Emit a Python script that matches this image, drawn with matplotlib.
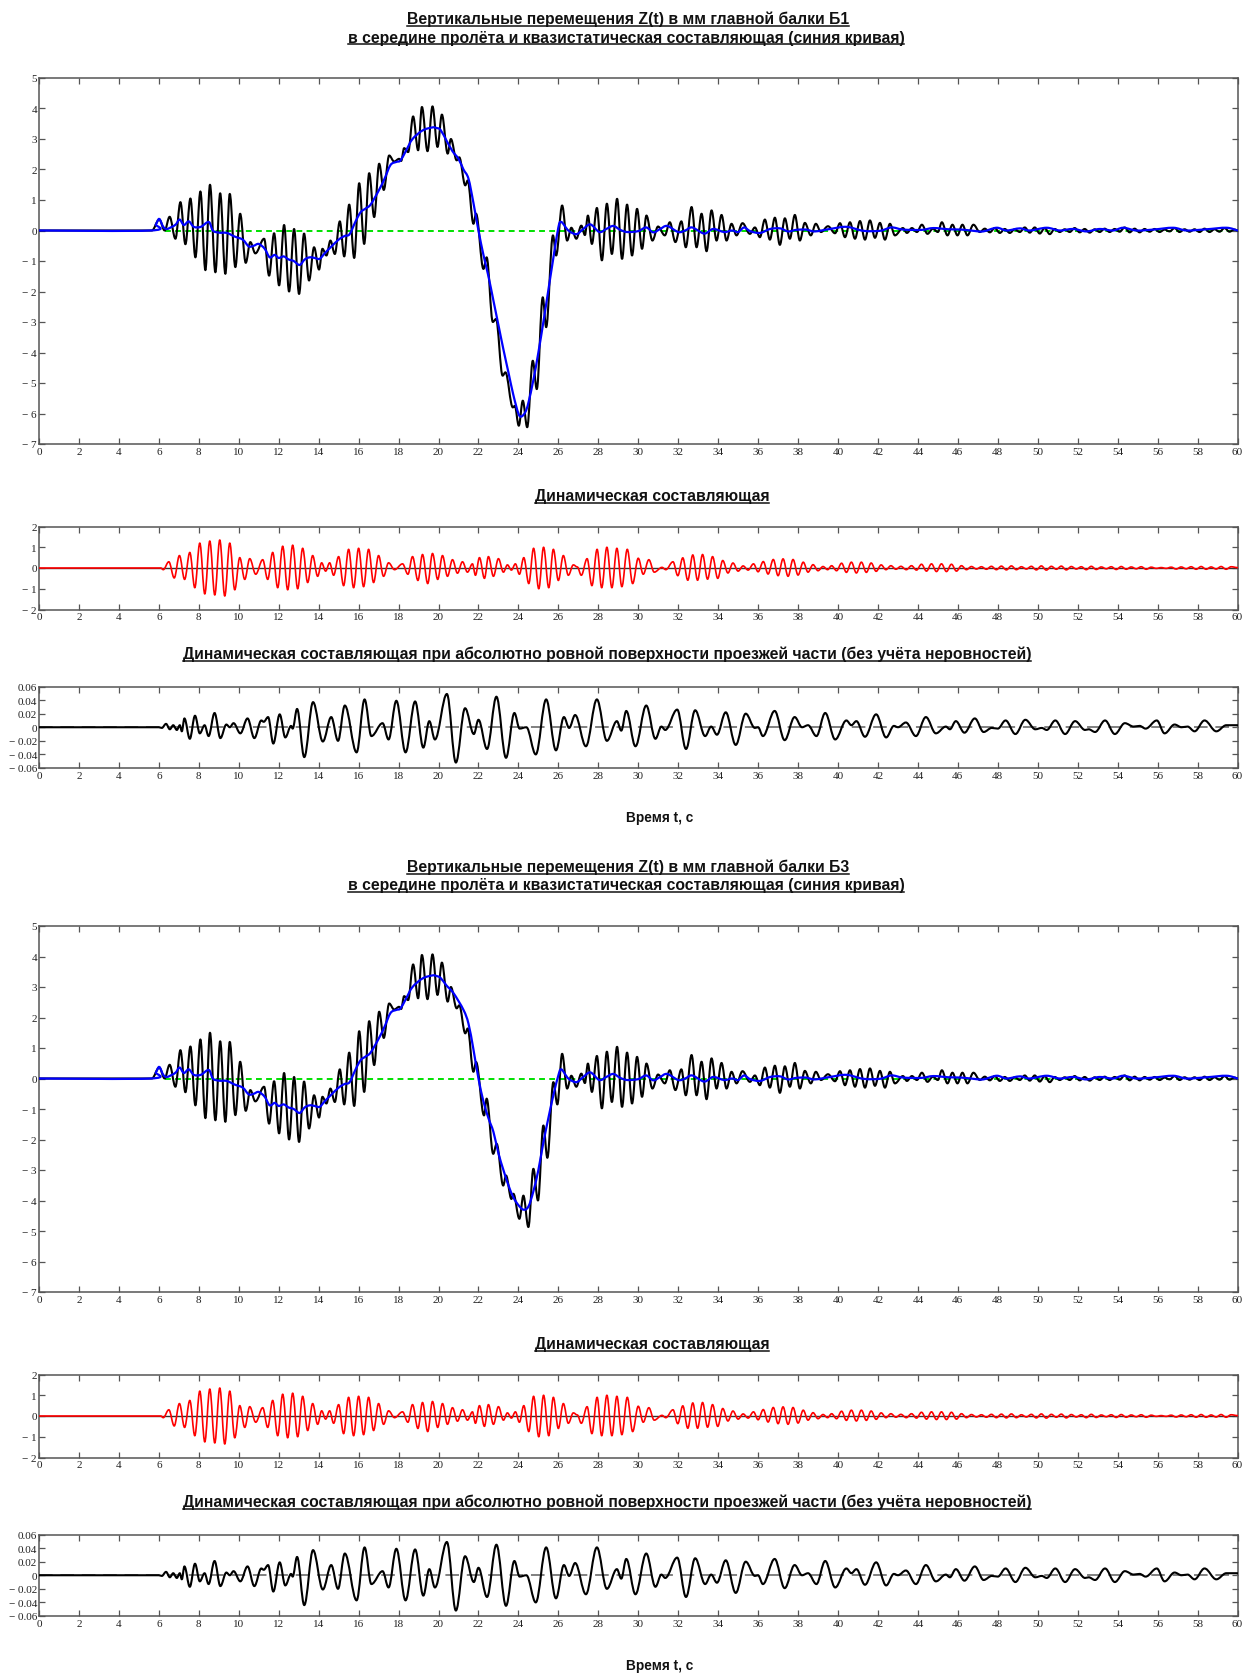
import numpy as np
import matplotlib
matplotlib.use('Agg')
import matplotlib.pyplot as plt
from matplotlib.path import Path
from matplotlib.patches import PathPatch
from matplotlib.lines import Line2D

W, H = 1245, 1674

# ---- dynamic component (red), extrema in time order: t [s], value [mm]
red_t = [0.00, 6.10, 6.22, 6.50, 6.77, 7.03, 7.29, 7.55, 7.80, 8.05,
         8.30, 8.55, 8.80, 9.05, 9.30, 9.55, 9.80, 10.05, 10.30, 10.55,
         10.85, 11.20, 11.45, 11.70, 11.95, 12.20, 12.45, 12.70, 12.95, 13.20,
         13.45, 13.70, 13.95, 14.15, 14.35, 14.55, 14.75, 15.00, 15.25, 15.50,
         15.75, 16.00, 16.25, 16.50, 16.75, 17.00, 17.25, 17.50, 17.80, 18.20,
         18.47, 18.70, 18.97, 19.20, 19.46, 19.70, 19.96, 20.20, 20.45, 20.70,
         20.95, 21.20, 21.45, 21.70, 21.85, 22.05, 22.30, 22.50, 22.75, 23.00,
         23.25, 23.45, 23.65, 23.85, 24.05, 24.27, 24.52, 24.76, 25.02, 25.26,
         25.52, 25.75, 26.00, 26.25, 26.50, 26.75, 26.95, 27.15, 27.44, 27.68,
         27.94, 28.17, 28.43, 28.68, 28.93, 29.18, 29.45, 29.72, 30.00, 30.25,
         30.53, 30.80, 31.19, 31.38, 31.74, 31.98, 32.23, 32.48, 32.73, 32.97,
         33.22, 33.47, 33.72, 33.98, 34.23, 34.49, 34.74, 35.00, 35.25, 35.50,
         35.77, 36.00, 36.26, 36.50, 36.76, 37.00, 37.25, 37.50, 37.75, 38.00,
         38.26, 38.50, 38.75, 39.00, 39.25, 39.48, 39.68, 39.93, 40.18, 40.42,
         40.67, 40.92, 41.17, 41.42, 41.66, 41.91, 42.16, 42.40, 42.65, 42.90,
         43.15, 43.42, 43.68, 43.93, 44.18, 44.43, 44.68, 44.93, 45.18, 45.43,
         45.68, 45.93, 46.18, 46.43, 46.68, 46.93, 47.18, 47.43, 47.68, 47.93,
         48.18, 48.43, 48.68, 48.93, 49.18, 49.43, 49.68, 49.93, 50.18, 50.43,
         50.68, 50.93, 51.18, 51.43, 51.68, 51.93, 52.18, 52.43, 52.68, 52.93,
         53.18, 53.43, 53.68, 53.93, 54.18, 54.43, 54.68, 54.93, 55.18, 55.43,
         55.68, 55.93, 56.18, 56.43, 56.68, 56.93, 57.18, 57.43, 57.68, 57.93,
         58.18, 58.43, 58.68, 58.93, 59.18, 59.43, 59.68, 60.00]
red_v = [0.00, 0.00, -0.08, 0.30, -0.48, 0.60, -0.55, 0.75, -0.95, 1.20,
         -1.25, 1.30, -1.30, 1.35, -1.35, 1.20, -1.05, 0.50, -0.55, 0.45,
         -0.30, 0.40, -0.55, 0.75, -0.95, 1.05, -1.05, 1.10, -1.00, 0.95,
         -0.70, 0.60, -0.40, 0.25, -0.15, 0.25, -0.35, 0.55, -0.85, 0.90,
         -0.95, 0.95, -0.90, 0.90, -0.70, 0.60, -0.40, 0.25, -0.08, 0.20,
         -0.30, 0.55, -0.60, 0.65, -0.75, 0.70, -0.55, 0.60, -0.40, 0.40,
         -0.25, 0.30, -0.20, 0.20, -0.35, 0.50, -0.50, 0.55, -0.40, 0.45,
         -0.20, 0.15, -0.10, 0.20, -0.30, 0.50, -0.75, 0.95, -1.00, 1.00,
         -0.95, 0.90, -0.60, 0.60, -0.35, 0.15, 0.05, -0.35, 0.45, -0.85,
         0.90, -0.95, 1.00, -0.95, 0.95, -0.90, 0.90, -0.75, 0.47, -0.30,
         0.40, -0.20, 0.03, -0.08, 0.30, -0.37, 0.49, -0.59, 0.63, -0.59,
         0.65, -0.54, 0.55, -0.50, 0.36, -0.24, 0.24, -0.15, 0.10, -0.10,
         0.20, -0.18, 0.31, -0.29, 0.41, -0.37, 0.44, -0.40, 0.41, -0.34,
         0.28, -0.20, 0.16, -0.13, 0.07, -0.08, 0.11, -0.13, 0.23, -0.21,
         0.28, -0.24, 0.28, -0.21, 0.24, -0.16, 0.15, -0.08, 0.11, -0.06,
         0.08, -0.08, 0.11, -0.10, 0.18, -0.15, 0.20, -0.17, 0.20, -0.17,
         0.18, -0.15, 0.11, -0.08, 0.07, -0.05, 0.06, -0.06, 0.08, -0.08,
         0.09, -0.09, 0.10, -0.08, 0.06, -0.05, 0.08, -0.09, 0.10, -0.10,
         0.08, -0.06, 0.09, -0.09, 0.07, -0.05, 0.06, -0.08, 0.08, -0.07,
         0.05, -0.04, 0.06, -0.07, 0.07, -0.06, 0.05, -0.04, 0.06, -0.06,
         0.04, -0.02, 0.02, -0.02, 0.04, -0.05, 0.05, -0.04, 0.06, -0.06,
         0.07, -0.06, 0.05, -0.05, 0.07, -0.06, 0.06, 0.02]

# ---- total displacement Z(t), beam B1 (black)
z1_t = [0.00, 5.65, 6.02, 6.29, 6.54, 6.83, 7.08, 7.33, 7.58, 7.83,
        8.08, 8.33, 8.56, 8.83, 9.07, 9.33, 9.55, 9.83, 10.07, 10.35,
        10.58, 10.83, 11.27, 11.52, 11.77, 12.02, 12.27, 12.52, 12.77, 13.02,
        13.27, 13.52, 13.77, 14.02, 14.19, 14.39, 14.59, 14.81, 15.06, 15.28,
        15.53, 15.78, 16.03, 16.28, 16.53, 16.78, 17.03, 17.26, 17.53, 17.78,
        18.03, 18.13, 18.28, 18.48, 18.73, 18.98, 19.17, 19.45, 19.70, 19.95,
        20.17, 20.46, 20.62, 20.91, 21.04, 21.34, 21.46, 21.75, 21.88, 22.25,
        22.41, 22.72, 22.88, 23.21, 23.35, 23.72, 23.82, 24.02, 24.22, 24.44,
        24.72, 24.92, 25.22, 25.39, 25.73, 25.89, 26.19, 26.44, 26.65, 26.90,
        27.15, 27.33, 27.48, 27.68, 27.93, 28.18, 28.43, 28.68, 28.94, 29.19,
        29.44, 29.69, 29.94, 30.19, 30.41, 30.71, 30.99, 31.33, 31.58, 31.86,
        32.16, 32.38, 32.67, 32.92, 33.17, 33.42, 33.67, 33.92, 34.17, 34.42,
        34.67, 34.92, 35.22, 35.59, 35.84, 36.09, 36.34, 36.59, 36.84, 37.09,
        37.34, 37.59, 37.84, 38.09, 38.34, 38.64, 38.89, 39.15, 39.50, 39.85,
        40.10, 40.35, 40.60, 40.85, 41.10, 41.35, 41.60, 41.85, 42.10, 42.35,
        42.60, 42.85, 43.25, 43.45, 43.70, 43.95, 44.20, 44.48, 44.75, 45.00,
        45.20, 45.48, 45.73, 45.98, 46.23, 46.48, 46.78, 47.10, 47.35, 47.60,
        47.85, 48.10, 48.35, 48.60, 48.85, 49.10, 49.35, 49.60, 49.85, 50.10,
        50.35, 50.60, 50.85, 51.10, 51.35, 51.60, 51.85, 52.10, 52.35, 52.60,
        52.85, 53.10, 53.35, 53.60, 53.85, 54.10, 54.35, 54.60, 54.85, 55.10,
        55.35, 55.60, 55.85, 56.10, 56.35, 56.60, 56.85, 57.10, 57.35, 57.60,
        57.85, 58.10, 58.35, 58.60, 58.85, 59.10, 59.35, 59.60, 59.85, 60.00]
z1_v = [0.00, 0.00, 0.36, 0.00, 0.45, -0.27, 0.93, -0.45, 1.05, -0.88,
        1.28, -1.30, 1.50, -1.37, 1.22, -1.42, 1.20, -1.20, 0.55, -1.06,
        -0.38, -0.75, -0.27, -1.48, -0.09, -1.80, 0.18, -2.00, 0.05, -2.08,
        -0.10, -1.64, -0.55, -1.28, -0.60, -0.82, -0.33, -0.77, 0.30, -0.85,
        0.85, -0.90, 1.55, -0.44, 1.88, 0.44, 2.19, 1.33, 2.46, 2.26,
        2.35, 2.28, 2.70, 2.57, 3.74, 2.63, 4.05, 2.60, 4.07, 2.74,
        3.80, 2.52, 3.00, 2.30, 2.40, 1.48, 1.64, 0.22, 0.55, -1.26,
        -0.88, -3.00, -2.90, -4.76, -4.65, -5.80, -5.75, -6.40, -5.58, -6.45,
        -4.27, -5.20, -2.19, -3.17, -0.16, -0.82, 0.82, -0.33, 0.09, -0.27,
        0.16, -0.15, 0.49, -0.44, 0.74, -0.98, 0.88, -0.77, 1.04, -0.93,
        0.85, -0.82, 0.71, -0.60, 0.49, -0.33, 0.13, -0.16, 0.27, -0.38,
        0.30, -0.55, 0.77, -0.55, 0.55, -0.68, 0.66, -0.33, 0.51, -0.33,
        0.22, -0.16, 0.24, -0.11, 0.10, -0.22, 0.36, -0.30, 0.42, -0.47,
        0.40, -0.27, 0.51, -0.33, 0.25, -0.16, 0.22, -0.05, 0.14, -0.09,
        0.24, -0.22, 0.27, -0.27, 0.31, -0.30, 0.33, -0.24, 0.25, -0.30,
        0.22, -0.16, 0.08, -0.08, 0.08, -0.05, 0.19, -0.11, 0.06, -0.05,
        0.27, -0.16, 0.19, -0.16, 0.19, -0.16, 0.19, -0.05, 0.06, -0.06,
        0.08, -0.08, 0.05, -0.08, 0.04, -0.05, 0.10, -0.07, 0.10, -0.10,
        0.08, -0.12, 0.05, -0.05, 0.04, -0.05, 0.08, -0.06, 0.05, -0.07,
        0.04, -0.05, 0.06, -0.05, 0.05, -0.04, 0.10, -0.06, 0.06, -0.06,
        0.05, -0.04, 0.05, -0.05, 0.03, -0.03, 0.08, -0.05, 0.04, -0.04,
        0.04, -0.05, 0.06, -0.05, 0.04, -0.04, 0.08, -0.04, 0.03, 0.00]

# ---- quasi-static component, beam B1 (blue)
q1_t = [0.00, 5.60, 5.85, 6.02, 6.22, 6.40, 6.65, 6.85, 7.04, 7.25,
        7.50, 7.75, 8.10, 8.50, 8.70, 9.00, 9.40, 9.80, 10.20, 10.50,
        10.75, 11.00, 11.30, 11.55, 11.80, 12.00, 12.25, 12.50, 12.75, 13.05,
        13.30, 13.55, 13.80, 14.05, 14.30, 14.60, 15.00, 15.30, 15.55, 15.85,
        16.10, 16.35, 16.60, 17.00, 17.30, 17.60, 17.90, 18.10, 18.40, 18.70,
        19.20, 19.70, 19.90, 20.10, 20.40, 20.70, 21.00, 21.25, 21.50, 21.75,
        22.00, 22.25, 22.50, 22.75, 23.00, 23.25, 23.50, 23.75, 24.00, 24.15,
        24.35, 24.50, 24.75, 25.00, 25.25, 25.50, 25.75, 26.00, 26.15, 26.50,
        26.90, 27.20, 27.60, 28.05, 28.40, 28.75, 29.10, 29.45, 30.00, 30.40,
        30.75, 31.10, 31.45, 32.00, 32.35, 32.70, 33.30, 33.75, 34.30, 34.70,
        35.00, 35.30, 35.60, 36.10, 36.60, 37.10, 37.50, 37.90, 38.40, 38.84,
        39.60, 40.43, 41.26, 42.10, 42.68, 43.26, 44.18, 44.77, 45.52, 46.18,
        46.77, 47.27, 47.94, 48.44, 49.10, 49.60, 50.44, 51.10, 51.77, 52.44,
        53.10, 53.77, 54.28, 54.94, 55.78, 56.78, 57.45, 58.45, 59.45, 60.00]
q1_v = [0.00, 0.00, 0.20, 0.38, 0.12, 0.05, 0.12, 0.20, 0.36, 0.18,
        0.30, 0.12, 0.12, 0.28, 0.00, -0.07, -0.08, -0.20, -0.30, -0.52,
        -0.50, -0.44, -0.60, -0.88, -0.80, -0.90, -0.85, -0.95, -1.00, -1.13,
        -0.95, -0.88, -0.90, -0.93, -0.75, -0.55, -0.30, -0.18, -0.12, 0.30,
        0.60, 0.72, 0.85, 1.30, 1.70, 2.15, 2.25, 2.30, 2.65, 3.00,
        3.28, 3.38, 3.36, 3.30, 2.95, 2.60, 2.35, 2.00, 1.70, 0.90,
        0.00, -0.80, -1.50, -2.30, -3.10, -3.90, -4.65, -5.40, -6.00, -6.10,
        -5.95, -5.65, -4.90, -4.00, -3.00, -1.95, -0.90, 0.10, 0.28, 0.00,
        -0.12, 0.02, 0.20, -0.05, 0.05, 0.15, 0.02, -0.05, -0.02, 0.10,
        -0.06, 0.05, 0.15, -0.05, 0.00, 0.10, -0.10, 0.05, -0.05, 0.00,
        -0.05, 0.10, -0.02, -0.08, 0.05, 0.07, -0.03, 0.02, 0.03, -0.03,
        0.05, 0.12, -0.01, -0.01, 0.10, 0.03, 0.02, 0.08, 0.04, 0.03,
        -0.01, -0.03, 0.09, 0.00, 0.07, 0.00, 0.09, 0.00, 0.05, -0.03,
        0.05, 0.00, 0.09, 0.00, 0.03, 0.09, 0.00, 0.04, 0.09, 0.00]

# ---- beam B3: only the passage of the load (approx. 20-26 s) differs from B1
z3_seg_t = [21.88, 22.28, 22.41, 22.74, 22.91, 23.24, 23.38, 23.65, 23.75, 24.05,
            24.25, 24.50, 24.75, 24.98, 25.25, 25.45, 25.75, 25.95, 26.19]
z3_seg_v = [0.54, -1.21, -0.66, -2.47, -2.14, -3.51, -3.18, -3.95, -3.78, -4.60,
            -3.84, -4.87, -2.96, -4.00, -1.54, -2.60, -0.12, -0.85, 0.81]
q3_seg_t = [20.10, 20.40, 20.75, 21.25, 21.50, 21.75, 22.00, 22.25, 22.50, 22.75,
            23.00, 23.25, 23.50, 23.75, 24.00, 24.25, 24.50, 24.75, 25.00, 25.25,
            25.50, 25.75, 26.00, 26.15]
q3_seg_v = [3.30, 3.05, 2.80, 2.25, 1.80, 0.95, 0.00, -0.75, -1.30, -1.75,
            -2.45, -3.00, -3.50, -3.90, -4.15, -4.30, -4.20, -3.70, -3.00, -2.10,
            -1.30, -0.55, 0.10, 0.30]

# ---- dynamic component for an ideally smooth deck (no roughness)
s_t = [0.00, 6.00, 6.15, 6.36, 6.55, 6.72, 6.90, 7.05, 7.15, 7.28,
       7.55, 7.81, 8.05, 8.29, 8.49, 8.79, 9.08, 9.38, 9.55, 9.74,
       10.08, 10.44, 10.78, 11.13, 11.25, 11.47, 11.73, 12.05, 12.33, 12.62,
       12.70, 12.92, 13.28, 13.72, 14.21, 14.63, 14.97, 15.31, 15.90, 16.30,
       16.64, 17.20, 17.50, 17.89, 18.35, 18.83, 19.24, 19.54, 19.82, 20.42,
       20.87, 21.33, 21.77, 22.00, 22.43, 22.90, 23.38, 23.80, 24.06, 24.40,
       24.87, 25.39, 25.88, 26.28, 26.54, 26.84, 27.38, 27.93, 28.43, 28.93,
       29.15, 29.40, 29.86, 30.40, 30.86, 31.16, 31.35, 31.95, 32.39, 32.85,
       33.35, 33.65, 33.94, 34.38, 34.88, 35.38, 35.84, 36.00, 36.24, 36.83,
       37.33, 37.83, 38.20, 38.50, 38.92, 39.36, 39.86, 40.42, 40.67, 40.92,
       41.35, 41.91, 42.41, 42.80, 43.00, 43.40, 43.90, 44.40, 44.90, 45.40,
       45.60, 45.90, 46.33, 46.85, 47.29, 47.70, 48.00, 48.39, 48.88, 49.38,
       49.88, 50.20, 50.45, 50.88, 51.37, 51.87, 52.37, 52.55, 52.87, 53.37,
       53.86, 54.36, 54.80, 55.10, 55.40, 55.96, 56.35, 56.85, 57.20, 57.50,
       57.85, 58.35, 58.94, 59.44, 60.00]
s_v = [0.000, 0.000, -0.001, 0.005, -0.003, 0.003, -0.004, 0.003, -0.006, 0.013,
       -0.017, 0.017, -0.009, 0.003, -0.013, 0.021, -0.016, 0.004, 0.000, 0.006,
       -0.009, 0.013, -0.016, 0.010, 0.008, 0.015, -0.024, 0.019, -0.015, 0.002,
       -0.002, 0.027, -0.044, 0.037, -0.021, 0.015, -0.020, 0.032, -0.037, 0.041,
       -0.013, 0.006, -0.018, 0.039, -0.037, 0.038, -0.030, 0.009, -0.018, 0.049,
       -0.052, 0.028, -0.010, 0.011, -0.032, 0.045, -0.045, 0.021, -0.002, 0.000,
       -0.040, 0.041, -0.034, 0.015, -0.001, 0.018, -0.028, 0.041, -0.020, 0.009,
       -0.005, 0.024, -0.028, 0.032, -0.017, 0.001, -0.004, 0.026, -0.032, 0.025,
       -0.013, 0.001, -0.011, 0.022, -0.026, 0.020, -0.001, 0.000, -0.013, 0.024,
       -0.019, 0.015, 0.000, 0.003, -0.013, 0.021, -0.018, 0.010, 0.003, 0.009,
       -0.014, 0.019, -0.015, 0.002, 0.000, 0.007, -0.013, 0.015, -0.009, 0.001,
       -0.003, 0.009, -0.008, 0.013, -0.007, -0.001, -0.002, 0.010, -0.010, 0.011,
       -0.003, -0.001, -0.004, 0.010, -0.010, 0.009, -0.004, -0.003, -0.007, 0.010,
       -0.010, 0.006, 0.001, 0.002, -0.002, 0.010, -0.009, 0.004, 0.000, 0.001,
       -0.006, 0.010, -0.006, 0.003, 0.003]

green_start = 6.3   # static reference line is drawn from here on

titles_1 = ["Вертикальные перемещения Z(t) в мм главной балки Б1",
            "в середине пролёта и квазистатическая составляющая (синия кривая)"]
titles_3 = ["Вертикальные перемещения Z(t) в мм главной балки Б3",
            "в середине пролёта и квазистатическая составляющая (синия кривая)"]
title_dyn = "Динамическая составляющая"
title_smooth = "Динамическая составляющая при абсолютно ровной поверхности проезжей части (без учёта неровностей)"
xlabel_text = "Время t, с"

x_ticks = list(range(0, 61, 2))
top_ticks = [5, 4, 3, 2, 1, 0, -1, -2, -3, -4, -5, -6, -7]
dyn_ticks = [2, 1, 0, -1, -2]
smooth_ticks = [0.06, 0.04, 0.02, 0, -0.02, -0.04, -0.06]


def splice(t, v, seg_t, seg_v):
    t = np.asarray(t)
    v = np.asarray(v)
    keep_a = t < seg_t[0]
    keep_b = t > seg_t[-1]
    return (np.concatenate([t[keep_a], seg_t, t[keep_b]]),
            np.concatenate([v[keep_a], seg_v, v[keep_b]]))


def wave_path(t, v, k=0.36):
    # cubic pieces with horizontal tangents at every extremum
    verts = [(t[0], v[0])]
    codes = [Path.MOVETO]
    for i in range(1, len(t)):
        dt = t[i] - t[i - 1]
        verts += [(t[i - 1] + k * dt, v[i - 1]), (t[i] - k * dt, v[i]), (t[i], v[i])]
        codes += [Path.CURVE4] * 3
    return Path(verts, codes)


def smooth_path(t, v):
    # Catmull-Rom curve through the points
    p = np.column_stack([t, v]).astype(float)
    n = len(p)
    verts = [tuple(p[0])]
    codes = [Path.MOVETO]
    for i in range(n - 1):
        p0 = p[max(i - 1, 0)]
        p1, p2 = p[i], p[i + 1]
        p3 = p[min(i + 2, n - 1)]
        c1 = p1 + (p2 - p0) / 6.0
        c2 = p2 - (p3 - p1) / 6.0
        verts += [tuple(c1), tuple(c2), tuple(p2)]
        codes += [Path.CURVE4] * 3
    return Path(verts, codes)


def add_curve(ax, path, color, lw, z):
    ax.add_patch(PathPatch(path, fill=False, edgecolor=color, lw=lw,
                           joinstyle='round', capstyle='round', zorder=z))


def tick_text(v, fmt):
    s = fmt.format(abs(v))
    return ("\u2212 " + s) if v < 0 else s


def style_axes(ax, ylim, yticks, fmt):
    ax.set_xlim(0, 60)
    ax.set_ylim(*ylim)
    ax.set_xticks(x_ticks)
    ax.set_xticklabels([str(x) for x in x_ticks])
    ax.set_yticks(yticks)
    ax.set_yticklabels([tick_text(y, fmt) for y in yticks])
    ax.tick_params(direction='in', top=True, right=True, length=4, width=0.9,
                   color='#555555', labelsize=8, labelcolor='#222222')
    ax.tick_params(axis='y', pad=1.5)
    ax.tick_params(axis='x', pad=2)
    for lab in ax.get_xticklabels() + ax.get_yticklabels():
        lab.set_family('Liberation Serif')
    for sp in ax.spines.values():
        sp.set_color('#555555')
        sp.set_linewidth(1.1)


def px_axes(fig, x0, y0, x1, y1):
    return fig.add_axes([x0 / W, 1 - y1 / H, (x1 - x0) / W, (y1 - y0) / H])


def underlined(fig, txt, x, y, fs):
    t = fig.text(x / W, 1 - y / H, txt, ha='center', va='baseline', fontsize=fs,
                 fontweight='bold', family='Liberation Sans', color='#111111')
    r = fig.canvas.get_renderer()
    bb = t.get_window_extent(r)
    uy = (H - y - 2.5) / H
    fig.add_artist(Line2D([bb.x0 / W, bb.x1 / W], [uy, uy], color='#111111', lw=1.1))


def draw_set(fig, off, titles, zt, zv, qt, qv):
    # displacement with quasi-static curve
    ax = px_axes(fig, 39, 79 + off, 1237.5, 445 + off)
    style_axes(ax, (-7, 5), top_ticks, "{:g}")
    ax.plot([green_start, 60], [0, 0], color='#00e000', lw=1.4,
            dashes=(3, 2.2), zorder=2)
    add_curve(ax, wave_path(zt, zv), 'black', 1.5, 3)
    add_curve(ax, smooth_path(qt, qv), '#0000ff', 1.6, 4)

    # dynamic part
    ax = px_axes(fig, 39, 527.5 + off, 1237.5, 610.5 + off)
    style_axes(ax, (-2, 2), dyn_ticks, "{:g}")
    ax.axhline(0, color='#333333', lw=1.0, zorder=2)
    add_curve(ax, wave_path(red_t, red_v), '#ff0000', 1.2, 3)

    # dynamic part, smooth deck
    ax = px_axes(fig, 39, 687.5 + off, 1237.5, 769 + off)
    style_axes(ax, (-0.06, 0.06), smooth_ticks, "{:g}")
    ax.axhline(0, color='#808080', lw=1.4, dashes=(7, 4), zorder=2)
    add_curve(ax, wave_path(s_t, s_v), 'black', 1.5, 3)

    heads = [(titles[0], 628, 24 + off),
             (titles[1], 626, 42.5 + off),
             (title_dyn, 652, 501 + off),
             (title_smooth, 607, 659 + off)]
    for txt, x, y in heads:
        underlined(fig, txt, x, y, 11.35)
    fig.text(660 / W, 1 - (822 + off) / H, xlabel_text, ha='center', va='baseline',
             fontsize=9.8, fontweight='bold', family='Liberation Sans', color='#111111')


fig = plt.figure(figsize=(W / 100, H / 100), dpi=100)
fig.patch.set_facecolor('white')

draw_set(fig, 0, titles_1, z1_t, z1_v, q1_t, q1_v)
z3_t, z3_v = splice(z1_t, z1_v, z3_seg_t, z3_seg_v)
q3_t, q3_v = splice(q1_t, q1_v, q3_seg_t, q3_seg_v)
draw_set(fig, 848, titles_3, z3_t, z3_v, q3_t, q3_v)

fig.savefig('out.png', dpi=100)
